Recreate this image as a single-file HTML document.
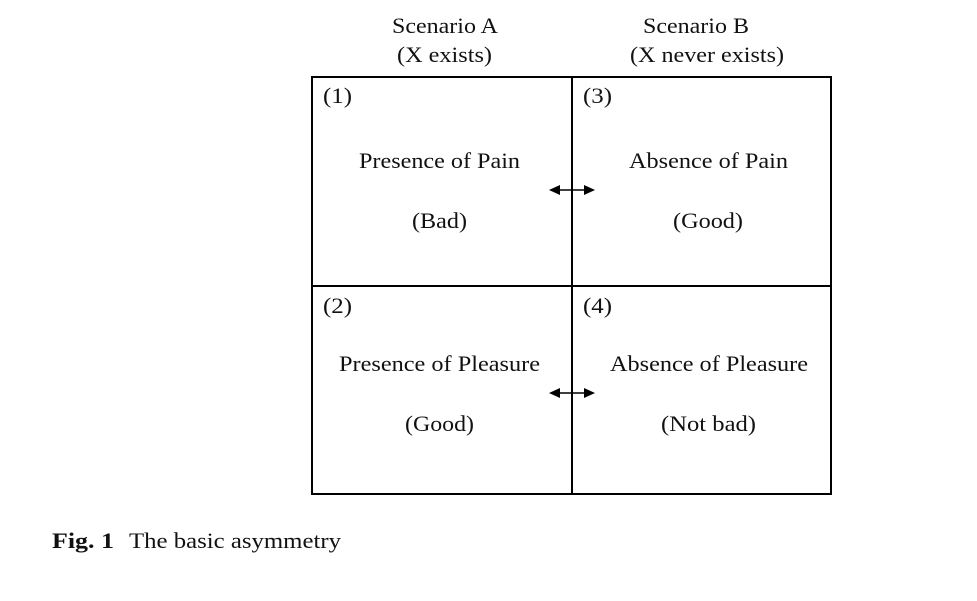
<!DOCTYPE html>
<html><head><meta charset="utf-8"><style>
html,body{margin:0;padding:0;background:#fff;width:977px;height:601px;overflow:hidden}
svg{display:block}
text{font-family:"Liberation Serif",serif;font-size:22px;fill:#111}
</style></head><body>
<svg width="977" height="601" viewBox="0 0 977 601" xmlns="http://www.w3.org/2000/svg">
<text x="392" y="33" textLength="106" lengthAdjust="spacingAndGlyphs">Scenario A</text>
<text x="397" y="62" textLength="95" lengthAdjust="spacingAndGlyphs">(X exists)</text>
<text x="643" y="33" textLength="106" lengthAdjust="spacingAndGlyphs">Scenario B</text>
<text x="630" y="62" textLength="154" lengthAdjust="spacingAndGlyphs">(X never exists)</text>
<rect x="312" y="77" width="519" height="417" fill="none" stroke="#000" stroke-width="2"/>
<line x1="572" y1="77" x2="572" y2="494" stroke="#000" stroke-width="2"/>
<line x1="312" y1="286" x2="831" y2="286" stroke="#000" stroke-width="2"/>
<text x="323" y="103" textLength="29" lengthAdjust="spacingAndGlyphs">(1)</text>
<text x="583" y="103" textLength="29" lengthAdjust="spacingAndGlyphs">(3)</text>
<text x="323" y="313" textLength="29" lengthAdjust="spacingAndGlyphs">(2)</text>
<text x="583" y="313" textLength="29" lengthAdjust="spacingAndGlyphs">(4)</text>
<text x="359" y="168" textLength="161" lengthAdjust="spacingAndGlyphs">Presence of Pain</text>
<text x="412" y="228" textLength="55" lengthAdjust="spacingAndGlyphs">(Bad)</text>
<text x="629" y="168" textLength="159" lengthAdjust="spacingAndGlyphs">Absence of Pain</text>
<text x="673" y="228" textLength="70" lengthAdjust="spacingAndGlyphs">(Good)</text>
<text x="339" y="371" textLength="201" lengthAdjust="spacingAndGlyphs">Presence of Pleasure</text>
<text x="405" y="431" textLength="69" lengthAdjust="spacingAndGlyphs">(Good)</text>
<text x="610" y="371" textLength="198" lengthAdjust="spacingAndGlyphs">Absence of Pleasure</text>
<text x="661" y="431" textLength="95" lengthAdjust="spacingAndGlyphs">(Not bad)</text>
<g stroke="#000" stroke-width="1.5">
<line x1="556" y1="190" x2="588" y2="190"/>
<line x1="556" y1="393" x2="588" y2="393"/>
</g>
<g fill="#000">
<polygon points="549,190 560,185 560,195"/>
<polygon points="595,190 584,185 584,195"/>
<polygon points="549,393 560,388 560,398"/>
<polygon points="595,393 584,388 584,398"/>
</g>
<text x="52" y="548" font-weight="bold" textLength="62" lengthAdjust="spacingAndGlyphs">Fig. 1</text>
<text x="129" y="548" textLength="212" lengthAdjust="spacingAndGlyphs">The basic asymmetry</text>
</svg>
</body></html>
